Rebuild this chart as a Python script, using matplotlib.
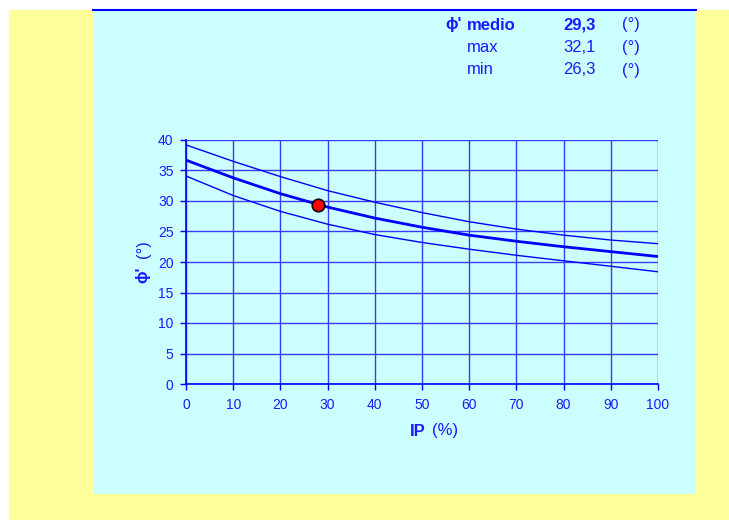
import matplotlib.pyplot as plt
from matplotlib.patches import Rectangle
from matplotlib.lines import Line2D

plt.rcParams['font.family'] = ['Liberation Sans', 'DejaVu Sans']

# IP (%) e angolo di attrito phi' (°)
ip = [0, 10, 20, 30, 40, 50, 60, 70, 80, 90, 100]
phi_medio = [36.7, 33.8, 31.2, 29.0, 27.2, 25.7, 24.4, 23.4, 22.5, 21.7, 20.9]
phi_max = [39.2, 36.5, 34.0, 31.7, 29.8, 28.1, 26.6, 25.4, 24.4, 23.6, 23.0]
phi_min = [34.1, 30.9, 28.3, 26.2, 24.5, 23.2, 22.1, 21.1, 20.2, 19.3, 18.4]

# punto di progetto
ip_punto = 28
phi_punto = 29.3

# tabella in alto
righe = ['medio', 'max', 'min']
valori = ['29,3', '32,1', '26,3']

blu = '#0000ff'
testo = '#1a1aff'
griglia = '#3a3aff'
fi = 'ϕ'

fig = plt.figure(figsize=(7.29, 5.20), dpi=100)
fig.patch.set_facecolor('white')

# sfondi
fig.patches.append(Rectangle((9 / 729, 0), 1, 1 - 10 / 520, transform=fig.transFigure,
                             facecolor='#ffff99', edgecolor='none', zorder=-3))
fig.patches.append(Rectangle((93 / 729, 26 / 520), (696 - 93) / 729, (494 - 10) / 520,
                             transform=fig.transFigure, facecolor='#ccffff',
                             edgecolor='none', zorder=-2))
fig.lines.append(Line2D([93 / 729, 696 / 729], [1 - 10 / 520, 1 - 10 / 520],
                        transform=fig.transFigure, color=blu, lw=1.5))

ax = fig.add_axes([186 / 729, 136 / 520, 472 / 729, 244 / 520])
ax.set_facecolor('#ccffff')

ax.plot(ip, phi_max, color=blu, lw=1)
ax.plot(ip, phi_min, color=blu, lw=1)
ax.plot(ip, phi_medio, color=blu, lw=2)
ax.plot(ip_punto, phi_punto, 'o', ms=9, mfc='#ff0000', mec='black', mew=1.2, zorder=5)

ax.set_xlim(0, 100)
ax.set_ylim(0, 40)
ax.set_xticks(range(0, 101, 10))
ax.set_yticks(range(0, 41, 5))
ax.grid(True, color=griglia, lw=1)
ax.set_axisbelow(True)
for s in ['top', 'right']:
    ax.spines[s].set_visible(False)
for s in ['left', 'bottom']:
    ax.spines[s].set_color(blu)
    ax.spines[s].set_linewidth(1.2)
ax.tick_params(colors=blu, labelcolor=testo, labelsize=10, length=4, width=1)
ax.tick_params(axis='x', pad=6)
ax.tick_params(axis='y', pad=5)

# etichette assi
fig.text(410 / 729, 1 - 431 / 520, 'IP', color=testo, fontsize=12, fontweight='bold',
         ha='left', va='center')
fig.text(432 / 729, 1 - 431 / 520, '(%)', color=testo, fontsize=12, ha='left', va='center')
fig.text(143 / 729, 1 - 275 / 520, fi + "'", color=testo, fontsize=12, fontweight='bold',
         rotation=90, ha='center', va='center')
fig.text(143 / 729, 1 - 249 / 520, '(°)', color=testo, fontsize=12,
         rotation=90, ha='center', va='center')

# tabella
for i, (r, v) in enumerate(zip(righe, valori)):
    y = 1 - (25 + i * 22.5) / 520
    peso = 'bold' if i == 0 else 'normal'
    fig.text(467 / 729, y, r, color=testo, fontsize=12, fontweight=peso, ha='left', va='center')
    fig.text(563 / 729, y, v, color=testo, fontsize=12, fontweight=peso, ha='left', va='center')
    fig.text(622 / 729, y, '(°)', color=testo, fontsize=12, ha='left', va='center')
fig.text(445 / 729, 1 - 25 / 520, fi + "'", color=testo, fontsize=12, fontweight='bold',
         ha='left', va='center')

fig.savefig('out.png', dpi=100)
